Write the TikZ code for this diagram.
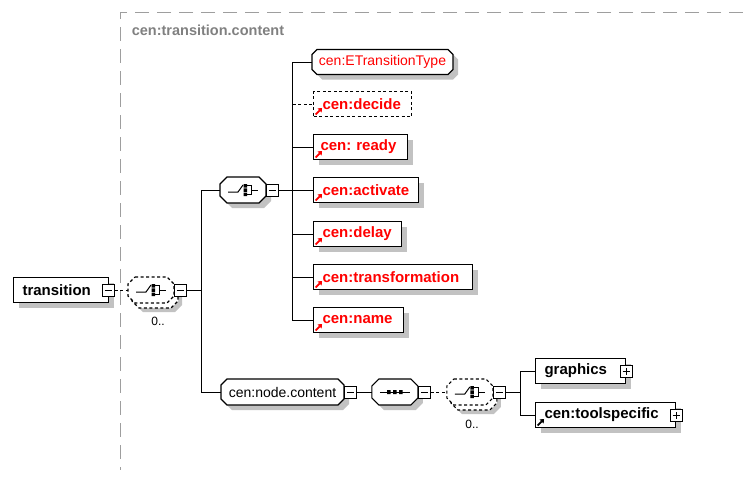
\documentclass[tikz,border=0pt]{standalone}
\usepackage{fontspec}
\setmainfont{Liberation Sans}
\usetikzlibrary{arrows.meta, shadows, positioning, backgrounds}

% outline with cut corners round a group node: node, chamfer, options
\newcommand{\octagonpath}[3]{\path[#3] ([xshift=#2]#1.north west) -- ([xshift=-#2]#1.north east) -- ([yshift=-#2]#1.north east) -- ([yshift=#2]#1.south east) -- ([xshift=-#2]#1.south east) -- ([xshift=#2]#1.south west) -- ([yshift=#2]#1.south west) -- ([yshift=-#2]#1.north west) -- cycle;}

\begin{document}
\begin{tikzpicture}[x=1pt, y=-1pt, line width=1pt,
	shade/.style = {drop shadow={shadow xshift=5pt, shadow yshift=-5pt, fill=black!24, opacity=1}},
	box/.style = {draw, fill=white, anchor=west, align=left, inner xsep=9pt, inner ysep=0pt, minimum height=25pt, line width=1.1pt, font=\fontsize{15}{17}\selectfont\bfseries},
	elem/.style = {box, shade},
	arrowmark/.style = {path picture={\draw[#1, solid, line width=1.8pt, -{Triangle[length=3.5pt, width=5.5pt]}] ([shift={(2pt,2pt)}]path picture bounding box.south west) -- ++(6.5pt,6.5pt);}},
	arrowmark/.default = red,
	ref/.style = {elem, arrowmark, text=red},
	optline/.style = {dash pattern=on 3pt off 2.5pt},
	optref/.style = {box, arrowmark, text=red, optline},
	grp/.style = {anchor=west, inner sep=0pt, minimum height=25pt, font=\fontsize{14}{16}\selectfont},
	compo/.style = {grp, minimum width=45pt},
	outline/.style = {draw, fill=white, line width=1.1pt},
	shadowfill/.style = {fill=black!24, transform canvas={xshift=5pt, yshift=-5pt}},
	toggle/.style = {draw, fill=white, minimum size=12pt, inner sep=0pt, line width=0.9pt, path picture={\draw[line width=0.9pt] ([xshift=2.5pt]path picture bounding box.west) -- ([xshift=-2.5pt]path picture bounding box.east);}},
	plus/.style = {draw, fill=white, minimum size=12pt, inner sep=0pt, line width=0.9pt, path picture={\draw[line width=0.9pt] ([xshift=2.5pt]path picture bounding box.west) -- ([xshift=-2.5pt]path picture bounding box.east) ([yshift=2.5pt]path picture bounding box.south) -- ([yshift=-2.5pt]path picture bounding box.north);}},
	mult/.style = {font=\fontsize{12}{13}\selectfont, inner sep=0pt},
	frame/.style = {draw=black!38, dash pattern=on 14pt off 8pt, line width=1pt},
	choicemark/.pic = {
		\draw (-15,2) -- (-5,2) -- (0,-5);
		\fill (0.5,-6) rectangle (4,-2.5) (0.5,-1.75) rectangle (4,1.75) (0.5,2.5) rectangle (4,6);
		\draw (4,-4.25) -- (8.5,-4.25) -- (8.5,4.25) -- (4,4.25) (8.5,0) -- (15,0);},
	seqmark/.pic = {
		\draw (-15,0) -- (15,0);
		\fill (-7.75,-2) rectangle (-4.25,2) (-1.75,-2) rectangle (1.75,2) (4.25,-2) rectangle (7.75,2);}]
	\useasboundingbox (0,0) rectangle (743,479);

	% group frame
	\draw[frame] (743,12) -| (120,470);
	\node[anchor=west, text=black!50, font=\fontsize{14.5}{16}\selectfont\bfseries] (grouplabel) at (128,30) {cen:transition.content};

	% root element
	\node[elem, text width=77pt] (transition) at (13,290) {transition};
	\node[toggle] (transitionm) at ([xshift=-1pt]transition.east) {};

	% optional choice, 0..unbounded
	\node[compo] (ch1) at (128,290) {};
	\pic at (ch1) {choicemark};
	\node[toggle, right=0pt of ch1] (ch1m) {};
	\node[mult] (ch1n) at (158,321) {0..};
	\coordinate[right=15pt of ch1m.east] (fork1);

	% inner choice
	\node[compo] (chA) at (220,190) {};
	\pic at (chA) {choicemark};
	\node[toggle, right=0pt of chA] (chAm) {};
	\coordinate[right=14pt of chAm.east] (fork2);

	\node[grp, text=red, minimum width=140pt, minimum height=24pt] (etype) at (312,62) {cen:ETransitionType};
	\node[optref, text width=80pt] (decide) at (313,104) {cen:decide};
	\node[ref, inner xsep=7pt, text width=80pt] (ready) at (313,147) {cen:\ ready};
	\node[ref, text width=87pt] (activate) at (313,190) {cen:activate};
	\node[ref, text width=70pt] (delay) at (313,234) {cen:delay};
	\node[ref, text width=141pt] (transformation) at (313,277) {cen:transformation};
	\node[ref, text width=72pt] (name) at (313,320) {cen:name};

	% node content group
	\node[grp, minimum width=122pt] (nodecontent) at (221,392) {cen:node.content};
	\node[toggle, right=0pt of nodecontent] (nodecontentm) {};
	\node[compo, right=15pt of nodecontentm] (seq) {};
	\pic at (seq) {seqmark};
	\node[toggle, right=0pt of seq] (seqm) {};
	\node[compo, right=16pt of seqm] (ch3) {};
	\pic at (ch3) {choicemark};
	\node[toggle, right=0pt of ch3] (ch3m) {};
	\node[mult] (ch3n) at (472,424) {0..};
	\coordinate[right=15pt of ch3m.east] (fork3);

	\node[elem, text width=72pt] (graphics) at (535,371) {graphics};
	\node[plus] (graphicsp) at (graphics.east) {};
	\node[elem, arrowmark=black, text width=122pt] (toolspecific) at (535,415) {cen:toolspecific};
	\node[plus] (toolspecificp) at (toolspecific.east) {};

	% cut-corner outlines behind the groups
	\begin{scope}[on background layer]
		\octagonpath{ch1}{7pt}{fill=black!24, transform canvas={xshift=8pt, yshift=-9pt}}
		\octagonpath{ch1}{7pt}{outline, optline, transform canvas={xshift=4pt, yshift=-5pt}}
		\octagonpath{ch1}{7pt}{outline, optline}
		\octagonpath{chA}{7pt}{shadowfill}
		\octagonpath{chA}{7pt}{outline}
		\octagonpath{etype}{5pt}{shadowfill}
		\octagonpath{etype}{5pt}{outline}
		\octagonpath{nodecontent}{6pt}{shadowfill}
		\octagonpath{nodecontent}{6pt}{outline}
		\octagonpath{seq}{7pt}{shadowfill}
		\octagonpath{seq}{7pt}{outline}
		\octagonpath{ch3}{7pt}{fill=black!24, transform canvas={xshift=8pt, yshift=-9pt}}
		\octagonpath{ch3}{7pt}{outline, optline, transform canvas={xshift=4pt, yshift=-5pt}}
		\octagonpath{ch3}{7pt}{outline, optline}
	\end{scope}

	% connectors
	\draw[optline] (transitionm) -- (ch1);
	\draw (ch1m) -- (fork1);
	\draw (fork1) |- (chA);
	\draw (fork1) |- (nodecontent);
	\draw (chAm) -- (fork2);
	\draw (fork2) |- (etype);
	\draw[optline] (decide.west -| fork2) -- (decide);
	\draw (fork2) |- (ready);
	\draw (fork2) -- (activate);
	\draw (fork2) |- (delay);
	\draw (fork2) |- (transformation);
	\draw (fork2) |- (name);
	\draw (nodecontentm) -- (seq);
	\draw[optline] (seqm) -- (ch3);
	\draw (ch3m) -- (fork3);
	\draw (fork3) |- (graphics);
	\draw (fork3) |- (toolspecific);
\end{tikzpicture}
\end{document}
